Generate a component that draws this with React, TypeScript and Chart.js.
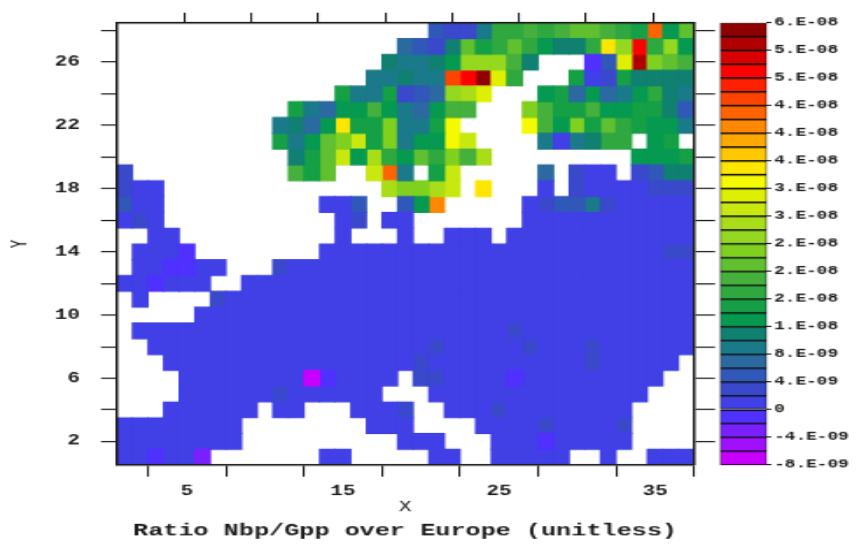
import React, { useEffect, useRef } from "react";
import { Chart, registerables } from "chart.js";

Chart.register(...registerables);

// Level code per grid cell, top row (y = 28) first; "." means no data.
const yRowsTopDown = [28, 27, 26, 25, 24, 23, 22, 21, 20, 19, 18, 17, 16, 15, 14, 13, 12, 11, 10, 9, 8, 7, 6, 5, 4, 3, 2, 1];
const cellLevels = [
  "...................." + "6558ccdcdeedcbpae",
  ".................." + "7659ebceca99clgscga",
  "................." + "9" + "889agggd9...36jufed",
  "................" + "88" + "988qsvjc...b45b9999",
  ".............." + "b88b" + "567ghj...ab7a78ac98",
  "..........." + "b87aada" + "87add...fdbbdaabb96",
  ".........." + "897albbf" + "88bk....kdafbecbaa8",
  ".........." + "b8aefibf" + "8aaki....8489cc.ab.",
  "..........." + "9beiahc" + "aecfdh.........aaab",
  "5.........." + "dbe..ip" + "8.bi.....7.544.5699",
  "544.............." + "h" + "ffhi.l...4.54444555",
  "644.........." + "446.." + "6ao.....45668544444",
  "454..........." + "45.4" + "4......." + "4444444444" + "4",
  "..44.........." + "4..." + "4..444." + "4444444444" + "44",
  ".4443........" + "4444444444" + "4444444444" + "44" + "55",
  ".443344...5" + "4444444444" + "4444444444" + "444444",
  "443444.." + "4444444444" + "4444444444" + "444444444",
  ".4....5" + "4444444444" + "4444444444" + "4444444444",
  "....." + "4444444444" + "4444444444" + "4444444444" + "44",
  "." + "4444444444" + "4444444444" + "4444" + "5" + "4444444444" + "4",
  ".." + "4444444444" + "44444444" + "5" + "44444" + "5" + "444" + "5" + "444444",
  "..." + "4444444444" + "444444" + "5" + "4444444444" + "5" + "44444" + ".",
  "...." + "44444444" + "03" + "4444" + "." + "55" + "4444" + "3" + "444444444" + "..",
  "...." + "444444" + "5" + "444444" + "..." + "4444444444" + "4444" + "...",
  "..." + "444444" + "." + "44" + "..." + "444" + "5" + ".." + "444" + "5" + "44444444" + "....",
  "44444444" + "........" + "444" + "...." + "4444" + "5" + "4444" + "5" + "....",
  "44444444" + ".........." + "444" + "..." + "444" + "3" + "44444" + "....",
  "443442......." + "44" + "....." + "44" + ".." + "44444" + ".." + "4" + ".." + "444",
];
const levelCodes = "0123456789abcdefghijklmnopqrstuv";

const levelColors = [
  "#c800ff", "#a010ff", "#7a20ff", "#4f30ff", "#4040e6", "#3a48cc", "#3058b8", "#2a6aa0",
  "#1a7a8a", "#108070", "#059a50", "#15a045", "#30a840", "#45b03c", "#60c030", "#80d020",
  "#95d820", "#a8dd18", "#c8e810", "#def000", "#f5fa00", "#ffe600", "#ffc800", "#ffa800",
  "#ff8800", "#ff6400", "#ff4400", "#ff2000", "#ff0000", "#d80000", "#b00000", "#900000",
];
const levelEdges = [
  -8e-9, -6e-9, -4e-9, -2e-9, 0, 2e-9, 4e-9, 6e-9, 8e-9, 10e-9, 12e-9, 14e-9, 16e-9, 18e-9, 20e-9, 22e-9, 24e-9,
  26e-9, 28e-9, 30e-9, 32e-9, 34e-9, 36e-9, 38e-9, 40e-9, 42e-9, 44e-9, 46e-9, 48e-9, 50e-9, 52e-9, 54e-9, 56e-9,
];
const colorTickValues = [-8e-9, -4e-9, 0, 4e-9, 8e-9, 12e-9, 16e-9, 20e-9, 24e-9, 28e-9, 32e-9, 36e-9, 40e-9, 44e-9, 48e-9, 52e-9, 56e-9];
const colorTickLabels = [
  "-8.E-09", "-4.E-09", "0", "4.E-09", "8.E-09", "1.E-08", "2.E-08", "2.E-08", "2.E-08",
  "3.E-08", "3.E-08", "4.E-08", "4.E-08", "4.E-08", "5.E-08", "5.E-08", "6.E-08",
];
const xTicks = [5, 10, 15, 20, 25, 30, 35];
const xLabelled = [5, 15, 25, 35];
const yTicks = [2, 4, 6, 8, 10, 12, 14, 16, 18, 20, 22, 24, 26, 28];
const yLabelled = [2, 6, 10, 14, 18, 22, 26];

const titleText = "Ratio Nbp/Gpp over Europe (unitless)";
const FONT = "'Liberation Mono', monospace";
const INK = "#1a1a1a";

// The reference is a low-resolution image stretched to its final size.
const CW = 495;
const CH = 476;
const SX = 866 / CW;
const SY = 548 / CH;

function heatDatasets() {
  return levelColors.map((color, level) => {
    const data: { x: number; y: [number, number] }[] = [];
    cellLevels.forEach((row, r) => {
      const y = yRowsTopDown[r];
      row.split("").forEach((ch, c) => {
        if (levelCodes.indexOf(ch) === level) data.push({ x: c + 1, y: [y - 0.51, y + 0.51] });
      });
    });
    return {
      label: String(levelEdges[level]),
      data,
      backgroundColor: color,
      borderWidth: 0,
      grouped: false,
      barThickness: 9.1,
    };
  });
}

const setTicks = (values: number[]) => (s: any) => {
  s.ticks = values.map((v) => ({ value: v }));
};
const frameAxis = (tickLength: number) => ({
  grid: { display: true, drawOnChartArea: false, drawTicks: true, tickLength, color: INK, lineWidth: 1.1 },
  border: { display: true, color: INK, width: 1.5, z: 1 },
});

export default function App() {
  const mainRef = useRef<HTMLCanvasElement>(null);
  const barRef = useRef<HTMLCanvasElement>(null);

  useEffect(() => {
    const main = new Chart(mainRef.current as HTMLCanvasElement, {
      type: "bar",
      data: { datasets: heatDatasets() as any },
      options: {
        animation: false,
        responsive: false,
        devicePixelRatio: 1,
        layout: { padding: 0 },
        plugins: {
          legend: { display: false },
          tooltip: { enabled: false },
          title: {
            display: true,
            text: titleText,
            position: "bottom",
            fullSize: false,
            color: INK,
            font: { family: FONT, size: 14.4, weight: "bold" },
            padding: { top: 0, bottom: 6 },
          },
        },
        scales: {
          x: {
            type: "linear",
            position: "bottom",
            min: 0.45,
            max: 37.5,
            offset: false,
            ...frameAxis(10),
            afterBuildTicks: setTicks(xTicks),
            afterFit: (s: any) => { s.height = 48.7; },
            ticks: {
              color: INK,
              padding: 5.4,
              autoSkip: false,
              maxRotation: 0,
              font: { family: FONT, size: 12, weight: "bold" },
              callback: (v: any) => (xLabelled.includes(v) ? String(v) : ""),
            },
            title: { display: true, text: "X", color: INK, font: { family: FONT, size: 12 }, padding: { top: 0, bottom: 4.2 } },
          },
          x2: {
            type: "linear",
            position: "top",
            min: 0.45,
            max: 37.5,
            ...frameAxis(8.7),
            afterBuildTicks: setTicks(xTicks),
            afterFit: (s: any) => { s.height = 19.7; },
            ticks: { display: false },
          },
          y: {
            type: "linear",
            position: "left",
            min: 0.5,
            max: 28.5,
            ...frameAxis(8.6),
            afterBuildTicks: setTicks(yTicks),
            afterFit: (s: any) => { s.width = 66.3; },
            ticks: {
              color: INK,
              padding: 12,
              autoSkip: false,
              font: { family: FONT, size: 12, weight: "bold" },
              callback: (v: any) => (yLabelled.includes(v) ? String(v) : ""),
            },
            title: { display: true, text: "Y", color: INK, font: { family: FONT, size: 12 }, padding: { top: 5, bottom: 0 } },
          },
          y2: {
            type: "linear",
            position: "right",
            min: 0.5,
            max: 28.5,
            ...frameAxis(12),
            afterBuildTicks: setTicks(yTicks),
            afterFit: (s: any) => { s.width = 98.3; },
            ticks: { display: false },
          },
        },
      } as any,
    });

    const bar = new Chart(barRef.current as HTMLCanvasElement, {
      type: "bar",
      data: {
        labels: [""],
        datasets: levelColors.map((color, i) => ({
          label: String(levelEdges[i]),
          data: [[levelEdges[i], levelEdges[i + 1]]],
          backgroundColor: color,
          borderColor: "#111111",
          borderWidth: 1,
          borderSkipped: false,
          grouped: false,
          barPercentage: 1,
          categoryPercentage: 1,
        })) as any,
      },
      options: {
        animation: false,
        responsive: false,
        devicePixelRatio: 1,
        layout: { padding: { left: 411.5, top: 19.7, bottom: 72.1, right: 0 } },
        plugins: { legend: { display: false }, tooltip: { enabled: false }, title: { display: false } },
        scales: {
          x: { display: false },
          y: {
            type: "linear",
            position: "right",
            min: -8e-9,
            max: 56e-9,
            grid: { display: true, drawOnChartArea: false, drawTicks: true, tickLength: 2.5, color: INK, lineWidth: 1 },
            border: { display: false },
            afterBuildTicks: setTicks(colorTickValues),
            afterFit: (s: any) => { s.width = 56.6; },
            ticks: {
              color: INK,
              padding: 1.5,
              autoSkip: false,
              font: { family: FONT, size: 10.2, weight: "bold" },
              callback: (_v: any, i: number) => colorTickLabels[i],
            },
          },
        },
      } as any,
    });

    return () => {
      main.destroy();
      bar.destroy();
    };
  }, []);

  const layer: React.CSSProperties = { position: "absolute", left: 0, top: 0 };
  return (
    <div style={{ position: "fixed", left: 0, top: 0, width: 866, height: 548, background: "#fff", overflow: "hidden" }}>
      <div style={{ ...layer, width: CW, height: CH, transform: `scale(${SX}, ${SY})`, transformOrigin: "0 0", filter: "blur(0.35px)" }}>
        <canvas ref={mainRef} width={CW} height={CH} style={layer} />
        <canvas ref={barRef} width={CW} height={CH} style={layer} />
      </div>
    </div>
  );
}
